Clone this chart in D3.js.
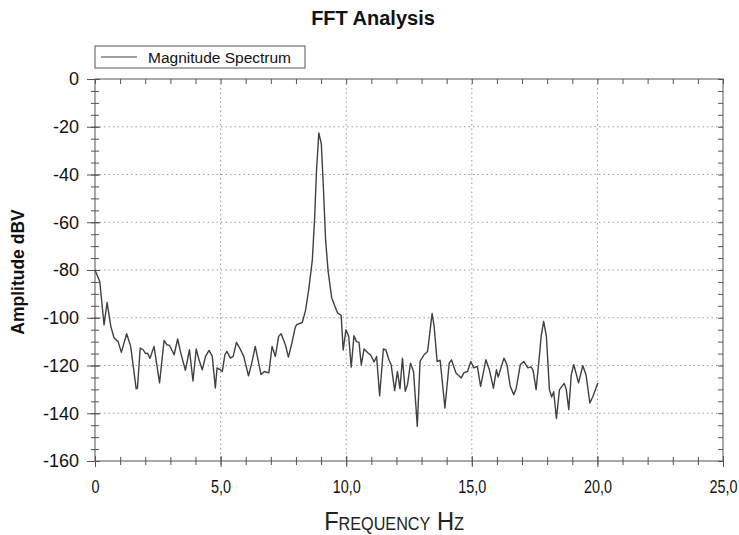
<!DOCTYPE html>
<html>
<head>
<meta charset="utf-8">
<script src="https://cdn.jsdelivr.net/npm/d3@7/dist/d3.min.js"></script>
<style>
  body { margin: 0; background: #fff; }
  svg { display: block; }
</style>
</head>
<body>
<svg id="chart" width="739" height="535"></svg>
<script>
// Spectrum samples: frequency (Hz) and magnitude (dBV)
const freqHz = [
  0, 1.9, 3.6, 4.8, 6.3, 7.6, 9.2, 10.5, 12.6, 14.2, 16.4, 16.9, 18.0, 19.2, 20.1, 20.9,
  21.9, 23.5, 25.7, 27.5, 28.6, 29.7, 31.5, 32.9, 34.2, 36.0, 37.6, 39.0, 40.3, 41.4,
  42.7, 44.0, 45.4, 46.7, 47.9, 48.6, 49.9, 50.7, 51.7, 52.5, 53.9, 55.0, 56.3, 57.6,
  59.2, 61.1, 62.4, 63.8, 66.1, 67.4, 69.2, 70.5, 71.8, 73.1, 74.1, 75.8, 77.0, 78.3,
  79.7, 80.3, 82.5, 83.8, 85.1, 86.5, 87.4, 88.2, 89.1, 90.1, 90.9, 91.8, 92.8, 94.2,
  95.6, 96.6, 98.0, 98.8, 99.9, 101.0, 102.0, 103.1, 104.1, 105.1, 106.0, 107.1, 108.7,
  109.7, 111.1, 112.1, 113.3, 114.8, 115.8, 117.0, 117.9, 119.3, 120.4, 121.4, 122.4,
  123.5, 124.4, 125.6, 126.8, 128.3, 129.4, 131.0, 132.4, 134.2, 135.0, 136.2, 137.4,
  139.3, 141.0, 141.9, 143.7, 145.8, 146.9, 148.3, 149.6, 150.8, 152.2, 153.5, 155.6,
  157.0, 158.6, 159.8, 160.5, 162.8, 164.0, 165.3, 166.7, 167.7, 169.3, 170.7, 172.3,
  173.6, 174.4, 175.6, 176.9, 177.6, 178.6, 179.7, 180.9, 181.8, 182.6, 183.7, 184.9,
  186.8, 187.6, 188.6, 189.6, 190.6, 192.5, 194.2, 195.5, 197.0, 198.2, 200.2
];
const magnitudeDbv = [
  -80, -84.8, -103, -93.6, -103.6, -108.5, -110, -114.5, -106.7, -112, -129.8, -129.4, -112.7, -113.4, -115, -114.8,
  -117, -112, -127.3, -109.5, -111.3, -111.6, -115.5, -108.9, -115, -122, -113.4, -126.5, -113.1, -117.6,
  -121.8, -116.2, -113.7, -116.2, -129.4, -121, -121.8, -122.5, -115.5, -114.1, -116.9, -116.2, -110.3, -112.7,
  -116.2, -124.3, -119, -112, -123.8, -122.5, -123.1, -112, -116.2, -107.8, -106.7, -111.3, -116.5, -111,
  -104, -102.9, -102, -97, -88, -76, -59, -38, -22.6, -27.2, -45, -67.4, -80.5, -91.5,
  -95.5, -98, -99, -113.5, -105, -107.8, -120.7, -107.5, -110, -110.3, -119.7, -113.1, -114.8,
  -115.5, -118.5, -116.2, -132.7, -113.1, -113.5, -117.6, -119.7, -130.5, -122.5, -129.7, -116.9,
  -130.8, -128, -119, -122.5, -145.5, -118.3, -115.5, -114.1, -98.2, -103.6, -118.3, -117.8,
  -137.8, -119, -117.6, -123.1, -125.2, -123, -122.5, -118.3, -121, -120.4, -128.7, -117.6,
  -121.8, -129.5, -121.8, -124.8, -116.9, -119.7, -128.7, -132.2, -129.5, -119.7, -118.3, -121,
  -120.6, -122, -130.1, -116.2, -107.8, -101.5, -107.8, -130.1, -133.2, -131, -142.2, -130.1,
  -127.5, -130, -138.5, -123.8, -119.7, -127.3, -120.1, -124, -135.7, -133, -127.3
];

// Axis ranges and tick labels
const xDomain = [0, 250];
const yDomain = [-160, 0];
const xMajorTicks = [0, 50, 100, 150, 200, 250];
const xTickLabels = ["0", "5,0", "10,0", "15,0", "20,0", "25,0"];
const yMajorTicks = [0, -20, -40, -60, -80, -100, -120, -140, -160];
const xMinorStep = 10;
const yMinorStep = 5;

const chartTitle = "FFT Analysis";
const seriesName = "Magnitude Spectrum";
const xTitle = "Frequency Hz";
const yTitle = "Amplitude dBV";

const plot = { left: 95, right: 723, top: 79, bottom: 461 };
const sans = "'Liberation Sans', Arial, sans-serif";
const axisColor = "#555";

const svg = d3.select("#chart");

const x = d3.scaleLinear().domain(xDomain).range([plot.left, plot.right]);
const y = d3.scaleLinear().domain(yDomain).range([plot.bottom, plot.top]);

const xMinor = d3.range(xDomain[0], xDomain[1] + 0.001, xMinorStep);
const yMinor = d3.range(yDomain[0], yDomain[1] + 0.001, yMinorStep);

// Dotted grid at the major ticks
const grid = svg.append("g").attr("class", "grid")
  .attr("stroke", "#9a9a9a").attr("stroke-width", 1).attr("stroke-dasharray", "1.5,3");
grid.selectAll("line.gx").data(xMajorTicks.slice(1, -1)).join("line")
  .attr("x1", d => x(d)).attr("x2", d => x(d))
  .attr("y1", plot.top).attr("y2", plot.bottom);
grid.selectAll("line.gy").data(yMajorTicks.slice(1, -1)).join("line")
  .attr("x1", plot.left).attr("x2", plot.right)
  .attr("y1", d => y(d)).attr("y2", d => y(d));

// Frame
svg.append("rect")
  .attr("x", plot.left).attr("y", plot.top)
  .attr("width", plot.right - plot.left).attr("height", plot.bottom - plot.top)
  .attr("fill", "none").attr("stroke", axisColor).attr("stroke-width", 1);

// Tick lines that cross the axis line
function crossTicks(g, orient, outer, inner) {
  g.select(".domain").remove();
  g.selectAll(".tick line").attr("stroke", axisColor);
  if (orient === "left") g.selectAll(".tick line").attr("x1", inner).attr("x2", -outer);
  if (orient === "bottom") g.selectAll(".tick line").attr("y1", -inner).attr("y2", outer);
}

// Left axis: minor ticks
svg.append("g").attr("transform", `translate(${plot.left},0)`)
  .call(d3.axisLeft(y).tickValues(yMinor).tickFormat(""))
  .call(g => crossTicks(g, "left", 4, 4));
// Left axis: major ticks + labels (plain hyphen minus)
svg.append("g").attr("transform", `translate(${plot.left},0)`)
  .call(d3.axisLeft(y).tickValues(yMajorTicks).tickSizeOuter(0).tickPadding(10)
    .tickFormat(d => String(d)))
  .call(g => crossTicks(g, "left", 8, 5))
  .call(g => g.selectAll(".tick text")
    .attr("font-family", sans).attr("font-size", 18).attr("fill", "#111"));

// Bottom axis: minor ticks
svg.append("g").attr("transform", `translate(0,${plot.bottom})`)
  .call(d3.axisBottom(x).tickValues(xMinor).tickFormat(""))
  .call(g => crossTicks(g, "bottom", 4, 4));
// Bottom axis: major ticks + labels, set in a condensed width
svg.append("g").attr("transform", `translate(0,${plot.bottom})`)
  .call(d3.axisBottom(x).tickValues(xMajorTicks).tickSizeOuter(0).tickPadding(13)
    .tickFormat((d, i) => xTickLabels[i]))
  .call(g => crossTicks(g, "bottom", 6, 5))
  .call(g => g.selectAll(".tick text")
    .attr("font-family", sans).attr("font-size", 18).attr("fill", "#111")
    .attr("transform", "scale(0.8,1)"));

// Mirrored ticks on the top and right edges
svg.append("g").attr("transform", `translate(0,${plot.top})`)
  .call(d3.axisBottom(x).tickValues(xMinor).tickFormat("").tickSize(5))
  .call(g => g.select(".domain").remove())
  .call(g => g.selectAll(".tick line").attr("stroke", axisColor));
svg.append("g").attr("transform", `translate(${plot.right},0)`)
  .call(d3.axisLeft(y).tickValues(yMinor).tickFormat("").tickSize(5))
  .call(g => g.select(".domain").remove())
  .call(g => g.selectAll(".tick line").attr("stroke", axisColor));

// Spectrum line
const pts = freqHz.map((f, i) => [f, magnitudeDbv[i]]);
const line = d3.line().x(d => x(d[0])).y(d => y(d[1]));
svg.append("path")
  .datum(pts)
  .attr("d", line)
  .attr("fill", "none")
  .attr("stroke", "#404040")
  .attr("stroke-width", 1.4)
  .attr("stroke-linejoin", "round");

// Title
svg.append("text")
  .attr("x", 373).attr("y", 25)
  .attr("text-anchor", "middle")
  .attr("font-family", sans).attr("font-weight", "bold").attr("font-size", 20)
  .attr("fill", "#111")
  .text(chartTitle);

// Legend
const legend = svg.append("g").attr("transform", "translate(95,46)");
legend.append("rect").attr("width", 210).attr("height", 22)
  .attr("fill", "#fff").attr("stroke", "#555").attr("stroke-width", 1);
legend.append("line").attr("x1", 6).attr("x2", 42).attr("y1", 11).attr("y2", 11)
  .attr("stroke", "#404040").attr("stroke-width", 1.2);
legend.append("text").attr("x", 53).attr("y", 16.5)
  .attr("font-family", sans).attr("font-size", 15.5).attr("fill", "#111")
  .text(seriesName);

// Axis titles
svg.append("text")
  .attr("transform", `translate(24,272) rotate(-90)`)
  .attr("text-anchor", "middle")
  .attr("font-family", sans)
  .attr("font-weight", "bold").attr("font-size", 17.5).attr("fill", "#111")
  .text(yTitle);

svg.append("text")
  .attr("transform", "translate(394,530) scale(0.91,1)")
  .attr("text-anchor", "middle")
  .attr("font-family", sans)
  .attr("font-variant", "small-caps")
  .attr("font-size", 26).attr("fill", "#222")
  .text(xTitle);
</script>
</body>
</html>
